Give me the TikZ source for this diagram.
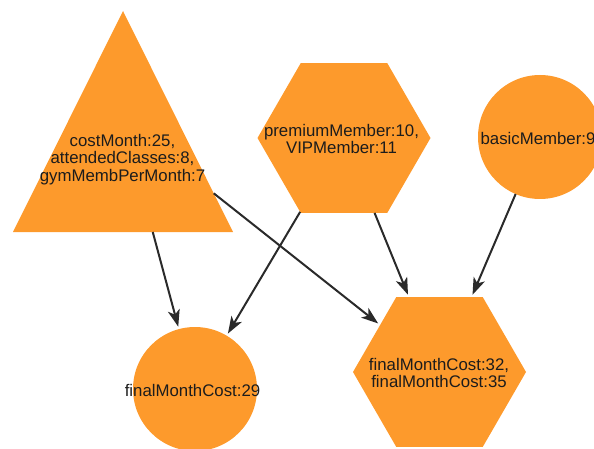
\documentclass[tikz,border=0pt]{standalone}
\usepackage{fontspec}
\setmainfont{Liberation Sans}
\usetikzlibrary{shapes.geometric,arrows.meta,intersections}
\definecolor{nodeorange}{HTML}{FD9A2C}
\definecolor{linegray}{HTML}{2A2A2A}
\definecolor{labelink}{HTML}{1C1C1C}
\begin{document}
\begin{tikzpicture}[x=1pt,y=-1pt,
  blob/.style={fill=nodeorange, draw=none, inner sep=0pt, outer sep=0pt},
  roundnode/.style={blob, circle, minimum size=124pt},
  hexnode/.style={blob, regular polygon, regular polygon sides=6, minimum size=173pt},
  caption/.style={text=labelink, align=center,
    font=\fontsize{16.8}{17.6}\selectfont, inner sep=0pt},
  link/.style={draw=linegray, line width=2pt,
    -{Stealth[length=17pt,width=12pt,inset=4.5pt]}, shorten >=2.5pt}
]
\useasboundingbox (0,0) rectangle (594,449);
\clip (0,0) rectangle (594,449);

% triangle, with its box centre as the reference point for its links
\fill[nodeorange, name path=costshape] (123,11) -- (233,232) -- (13,232) -- cycle;
\coordinate (cost) at (123,121.5);

% other shapes
\node[hexnode]   (premium) at (344,138)   {};
\node[roundnode] (basic)   at (540,137)   {};
\node[roundnode] (fin29)   at (195,389)   {};
\node[hexnode]   (fin3235) at (439.5,372) {};

% texts
\node[caption] (costtxt)    at (122.5,159.5) {costMonth:25,\\attendedClasses:8,\\gymMembPerMonth:7};
\node[caption] (premiumtxt) at (341.5,139)   {premiumMember:10,\\VIPMember:11};
\node[caption] (basictxt)   at (538,138)     {basicMember:9};
\node[caption] (fin29txt)   at (192.5,390)   {finalMonthCost:29};
\node[caption] (fin3235txt) at (439,373)     {finalMonthCost:32,\\finalMonthCost:35};

% connectors leaving the triangle start where they cross its border
\path[name path=ray29] (cost) -- (fin29);
\path[name path=ray3235] (cost) -- (fin3235);
\path[name intersections={of=costshape and ray29, name=a}];
\path[name intersections={of=costshape and ray3235, name=b}];
\draw[link] (a-1) -- (fin29);
\draw[link] (b-1) -- (fin3235);

\draw[link] (premium) -- (fin29);
\draw[link] (premium) -- (fin3235);
\draw[link] (basic)   -- (fin3235);
\end{tikzpicture}
\end{document}
